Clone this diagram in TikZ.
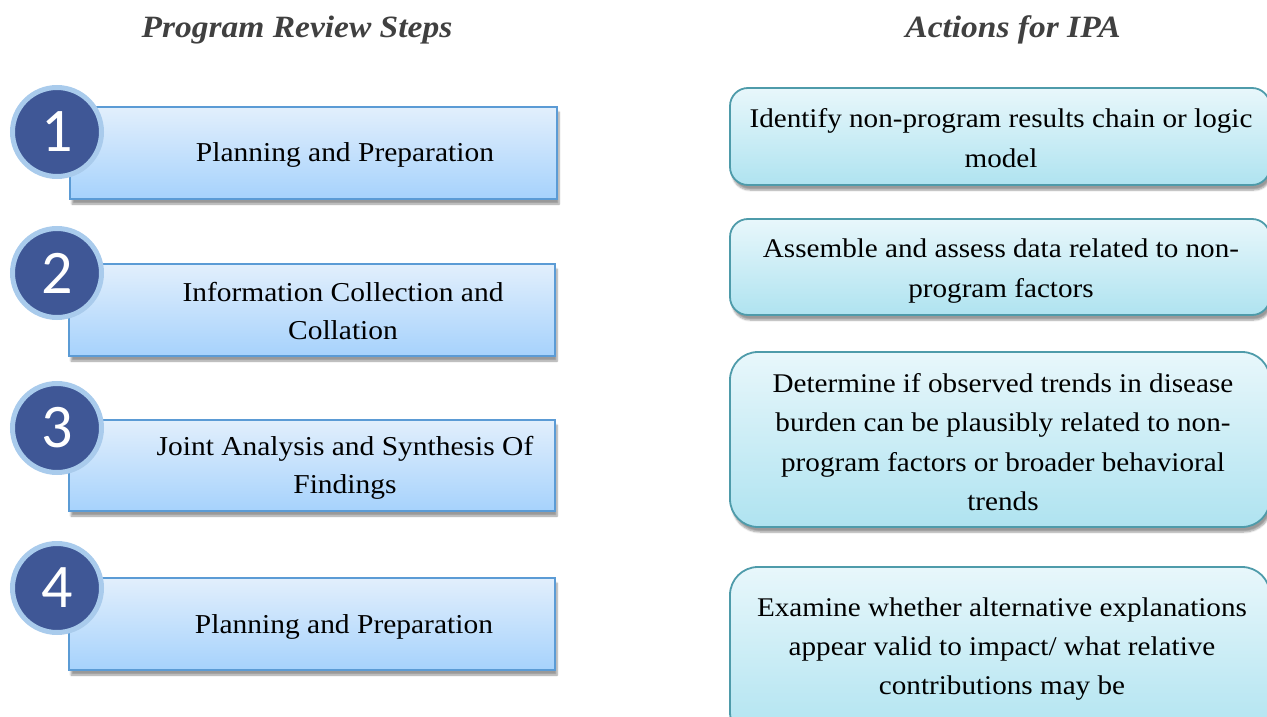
\documentclass[tikz,border=0pt]{standalone}
\usepackage{fontspec}
\setmainfont{Liberation Serif}[FakeStretch=1.08]
\newfontfamily\numfont{Carlito}
\usetikzlibrary{shadows,shadows.blur}
\definecolor{lboxtop}{HTML}{E2EFFC}
\definecolor{lboxbot}{HTML}{A6D2FC}
\definecolor{lboxline}{HTML}{5B9BD5}
\definecolor{rboxtop}{HTML}{E8F7FB}
\definecolor{rboxbot}{HTML}{AFE3F0}
\definecolor{rboxline}{HTML}{4E9BAA}
\definecolor{circfill}{HTML}{3F5796}
\definecolor{circring}{HTML}{A9CBEC}
\definecolor{headcol}{HTML}{404040}
\tikzset{
  lbox/.style={draw=lboxline, line width=1.6pt, top color=lboxtop, bottom color=lboxbot,
    blur shadow={shadow xshift=2pt, shadow yshift=-5pt, shadow blur steps=6, shadow opacity=40}},
  rbox/.style={draw=rboxline, line width=1.8pt, top color=rboxtop, bottom color=rboxbot,
    blur shadow={shadow xshift=2pt, shadow yshift=-5pt, shadow blur steps=6, shadow opacity=40}},
  numcirc/.style={circle, draw=circring, line width=5pt, fill=circfill, minimum size=89pt,
    inner sep=0pt, text=white, font=\numfont\fontsize{62}{62}\selectfont},
  ltext/.style={align=center, font=\fontsize{27.3}{38}\selectfont, inner sep=0pt},
  rtext/.style={align=center, font=\fontsize{27}{39.3}\selectfont, inner sep=0pt},
  head/.style={text=headcol, font=\fontsize{31}{34}\selectfont\bfseries\itshape, inner sep=0pt},
}
\begin{document}
\begin{tikzpicture}[x=1pt,y=-1pt]
\useasboundingbox (0,0) rectangle (1267,717);
\node[head] (h1) at (297,30) {Program Review Steps};
\node[head] (h2) at (1013,30) {Actions for IPA};
% left boxes
\path[lbox] (70,107) rectangle (557,199);
\node[numcirc] (c1) at (57,132) {1};
\node[ltext] (l1) at (345,155) {Planning and Preparation};
\path[lbox] (69,264) rectangle (555,356);
\node[numcirc] (c2) at (57,273) {2};
\node[ltext] (l2) at (343,311) {Information Collection and\\Collation};
\path[lbox] (69,420) rectangle (555,511);
\node[numcirc] (c3) at (57,428) {3};
\node[ltext] (l3) at (345,468) {Joint Analysis and Synthesis Of\\Findings};
\path[lbox] (69,578) rectangle (555,670);
\node[numcirc] (c4) at (57,588) {4};
\node[ltext] (l4) at (344,627) {Planning and Preparation};
% right boxes
\path[rbox, rounded corners=18pt] (730,88) rectangle (1270,185);
\node[rtext] (r1) at (1001,138) {Identify non-program results chain or logic\\model};
\path[rbox, rounded corners=18pt] (730,219) rectangle (1270,315);
\node[rtext] (r2) at (1001,271) {Assemble and assess data related to non-\\program factors};
\path[rbox, rounded corners=28pt] (730,352) rectangle (1270,527);
\node[rtext] (r3) at (1003,442) {Determine if observed trends in disease\\burden can be plausibly related to non-\\program factors or broader behavioral\\trends};
\path[rbox, rounded corners=28pt] (730,567) rectangle (1270,740);
\node[rtext] (r4) at (1002,649) {Examine whether alternative explanations\\appear valid to impact/ what relative\\contributions may be};
\end{tikzpicture}
\end{document}
